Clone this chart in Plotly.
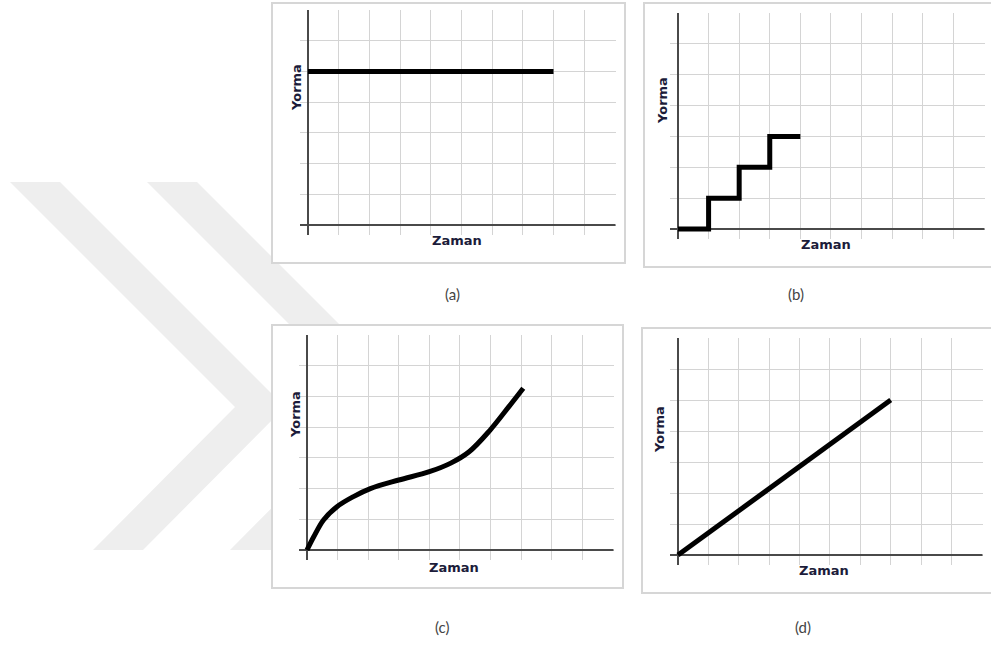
import plotly.graph_objects as go

W, H = 991, 648

# ---------------- data ----------------
a_x = [0, 8]
a_y = [5, 5]

b_x = [0, 1, 2, 3, 4]
b_y = [0, 1, 2, 3, 3]

c_x = [0, 0.22, 0.54, 0.98, 1.52, 2.07, 3.0, 4.0, 4.7, 5.3, 5.98, 6.6, 7.07]
c_y = [0, 0.43, 0.98, 1.41, 1.74, 2.0, 2.28, 2.55, 2.83, 3.2, 3.9, 4.67, 5.27]

d_x = [0, 7]
d_y = [0, 5]

x_label = "Zaman"
y_label = "Yorma"
panel_labels = ["(a)", "(b)", "(c)", "(d)"]

XMAX, YMAX = 10, 7


def px(x):
    return x / W


def py(y):
    return 1 - y / H


# panel geometry in pixels: origin (x0,y0), far corner (x1,y1), outer box
panels = [
    dict(x0=308, x1=615, y0=225, y1=10, box=(272, 3, 625, 263),
         ylab=(297, 88), xlab=(457, 240), lab=(452, 294)),
    dict(x0=678, x1=984, y0=229, y1=13, box=(644, 3, 996, 267),
         ylab=(662, 101), xlab=(826, 244), lab=(796, 294)),
    dict(x0=307, x1=613, y0=550, y1=335, box=(272, 325, 623, 588),
         ylab=(295, 415), xlab=(454, 567), lab=(442, 627)),
    dict(x0=678, x1=982, y0=555, y1=338, box=(642, 328, 996, 593),
         ylab=(660, 430), xlab=(824, 570), lab=(803, 627)),
]
series = [(a_x, a_y, "linear"), (b_x, b_y, "hv"), (c_x, c_y, "spline"), (d_x, d_y, "linear")]

fig = go.Figure()
shapes = []
annotations = []

# watermark chevrons
wm = "#eeeeee"
for off in (0, 137):
    pts = [(10 + off, 182), (60 + off, 182), (285 + off, 407), (143 + off, 550),
           (93 + off, 550), (235 + off, 407)]
    path = "M " + " L ".join(f"{px(x)},{py(y)}" for x, y in pts) + " Z"
    shapes.append(dict(type="path", xref="paper", yref="paper", path=path,
                       fillcolor=wm, line=dict(width=0), layer="below"))

for i, (p, (sx, sy, shape)) in enumerate(zip(panels, series)):
    n = "" if i == 0 else str(i + 1)
    ux = (p["x1"] - p["x0"]) / XMAX
    uy = (p["y0"] - p["y1"]) / YMAX
    ex = 8 / ux
    ey = 10 / uy
    bx0, by0, bx1, by1 = p["box"]
    shapes.append(dict(type="rect", xref="paper", yref="paper",
                       x0=px(bx0), x1=px(bx1), y0=py(by1), y1=py(by0),
                       fillcolor="white", line=dict(color="#d6d6d6", width=2),
                       layer="below"))
    axis_common = dict(showticklabels=False, ticks="", zeroline=False,
                       showline=False, gridcolor="#d4d4d4", gridwidth=1,
                       dtick=1, tick0=0, fixedrange=True)
    fig.update_layout(**{
        f"xaxis{n}": dict(domain=[px(p["x0"] - 8), px(p["x1"] + 0.5)],
                          range=[-ex, XMAX + 0.02], anchor=f"y{n}", **axis_common),
        f"yaxis{n}": dict(domain=[py(p["y0"] + 10), py(p["y1"] - 0.5)],
                          range=[-ey, YMAX + 0.02], anchor=f"x{n}", **axis_common),
    })
    xa, ya = f"x{n}", f"y{n}"
    # axis lines with stubs
    fig.add_trace(go.Scatter(x=[-ex, XMAX + 0.05], y=[0, 0], mode="lines",
                             line=dict(color="#4a4a4a", width=2), xaxis=xa, yaxis=ya,
                             hoverinfo="skip", showlegend=False))
    fig.add_trace(go.Scatter(x=[0, 0], y=[-ey, YMAX], mode="lines",
                             line=dict(color="#4a4a4a", width=2), xaxis=xa, yaxis=ya,
                             hoverinfo="skip", showlegend=False))
    fig.add_trace(go.Scatter(x=sx, y=sy, mode="lines",
                             line=dict(color="black", width=5, shape=shape),
                             xaxis=xa, yaxis=ya, showlegend=False))
    annotations.append(dict(x=px(p["ylab"][0]), y=py(p["ylab"][1]), xref="paper", yref="paper",
                            xanchor="center", yanchor="middle",
                            text=f"<b>{y_label}</b>", textangle=-90, showarrow=False,
                            font=dict(family="DejaVu Sans", size=13, color="#1c1c3a")))
    annotations.append(dict(x=px(p["xlab"][0]), y=py(p["xlab"][1]), xref="paper", yref="paper",
                            xanchor="center", yanchor="middle",
                            text=f"<b>{x_label}</b>", showarrow=False,
                            font=dict(family="DejaVu Sans", size=13, color="#1c1c3a")))
    annotations.append(dict(x=px(p["lab"][0]), y=py(p["lab"][1]), xref="paper", yref="paper",
                            xanchor="center", yanchor="middle",
                            text=panel_labels[i], showarrow=False,
                            font=dict(family="Lato", size=15, color="#444444")))

fig.update_layout(width=W, height=H, margin=dict(l=0, r=0, t=0, b=0),
                  paper_bgcolor="white", plot_bgcolor="rgba(0,0,0,0)",
                  shapes=shapes, annotations=annotations, showlegend=False)

fig.write_html("out.html", config={"displayModeBar": False},
               post_script="document.body.style.margin='0';document.body.style.overflow='hidden';")
